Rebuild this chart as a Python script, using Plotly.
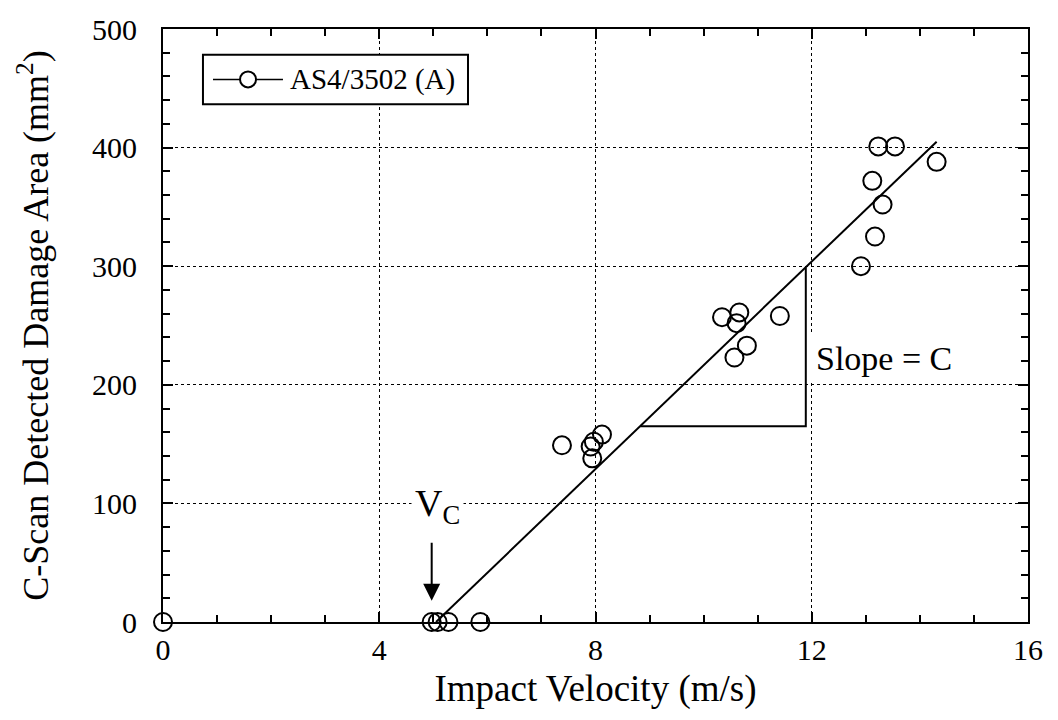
import plotly.graph_objects as go

# Data
velocity = [0, 4.97, 5.08, 5.28, 5.87, 7.38, 7.91, 7.97, 7.94, 8.12,
            10.34, 10.66, 10.61, 10.80, 10.57, 11.41,
            12.91, 13.12, 13.17, 13.31, 13.23, 13.54, 14.31]
damage_area = [0, 0, 0, 0, 0, 149, 148, 152, 138, 158,
               257, 261, 252, 233, 223, 258,
               300, 372, 325, 352, 401, 401, 388]

fit_velocity = [5.05, 14.31]
fit_area = [0, 405]

tri_velocity = [8.83, 11.89, 11.89]
tri_area = [165, 165, 299]

x_ticks = [0, 4, 8, 12, 16]
y_ticks = [0, 100, 200, 300, 400, 500]

series_name = "AS4/3502 (A)"

FONT = "Liberation Serif"

fig = go.Figure()

fig.add_trace(go.Scatter(
    x=fit_velocity, y=fit_area, mode="lines",
    line=dict(color="black", width=2), showlegend=False, hoverinfo="skip",
))
fig.add_trace(go.Scatter(
    x=tri_velocity, y=tri_area, mode="lines",
    line=dict(color="black", width=2), showlegend=False, hoverinfo="skip",
))
fig.add_trace(go.Scatter(
    x=velocity, y=damage_area, mode="markers", name=series_name,
    marker=dict(symbol="circle-open", size=18, color="black", line=dict(width=2)),
    showlegend=False, cliponaxis=False,
))

axis_common = dict(
    showline=True, linecolor="black", linewidth=2, mirror="ticks",
    ticks="inside", ticklen=10, tickwidth=1.5, tickcolor="black",
    showgrid=True, gridcolor="black", gridwidth=1, griddash="dot",
    zeroline=False,
    tickfont=dict(family=FONT, size=30, color="black"),
)

fig.update_xaxes(
    range=[0, 16], tickvals=x_ticks, ticktext=[str(v) for v in x_ticks],
    minor=dict(dtick=1, ticklen=7, tickcolor="black", tickwidth=1.5, ticks="inside", showgrid=False),
    title=dict(text="Impact Velocity (m/s)", font=dict(family=FONT, size=37, color="black"), standoff=10),
    **axis_common,
)
fig.update_yaxes(
    range=[0, 500], tickvals=y_ticks, ticktext=[str(v) for v in y_ticks],
    minor=dict(dtick=20, ticklen=7, tickcolor="black", tickwidth=1.5, ticks="inside", showgrid=False),
    title=dict(text="C-Scan Detected Damage Area (mm<sup>2</sup>)", font=dict(family=FONT, size=36, color="black"), standoff=32),
    ticklabelstandoff=18,
    **axis_common,
)

# Manual legend box (line through open circle + label)
fig.add_shape(type="rect", xref="paper", yref="paper",
              x0=0.0462, x1=0.3526, y0=0.8733, y1=0.9567,
              fillcolor="white", line=dict(color="black", width=2), layer="above")
fig.add_shape(type="line", xref="paper", yref="paper",
              x0=0.0578, x1=0.1387, y0=0.915, y1=0.915,
              line=dict(color="black", width=1.5), layer="above")
fig.add_shape(type="circle", xref="paper", yref="paper",
              xsizemode="pixel", ysizemode="pixel", xanchor=0.0983, yanchor=0.915,
              x0=-8, x1=8, y0=-8, y1=8,
              fillcolor="white", line=dict(color="black", width=2), layer="above")
fig.add_annotation(
    x=0.1445, y=0.915, xref="paper", yref="paper", xanchor="left", yanchor="middle",
    text=series_name, showarrow=False, font=dict(family=FONT, size=29, color="black"),
)

fig.add_annotation(
    x=4.97, y=18, ax=4.97, ay=68, xref="x", yref="y", axref="x", ayref="y",
    text="", showarrow=True, arrowhead=2, arrowsize=1.7, arrowwidth=2, arrowcolor="black",
)
fig.add_annotation(
    x=5.07, y=98, xref="x", yref="y", text="V<sub>C</sub>", showarrow=False,
    font=dict(family=FONT, size=38, color="black"), bgcolor="white", borderpad=3,
)
fig.add_annotation(
    x=11.97, y=222, xref="x", yref="y", xanchor="left", text="Slope = C", showarrow=False,
    font=dict(family=FONT, size=34, color="black"), bgcolor="white", borderpad=5,
)

fig.update_layout(
    width=1058, height=720,
    margin=dict(l=163, r=30, t=22, b=98),
    paper_bgcolor="white", plot_bgcolor="white",
    font=dict(family=FONT, color="black"),
    showlegend=False,
)

fig.write_html("out.html")
